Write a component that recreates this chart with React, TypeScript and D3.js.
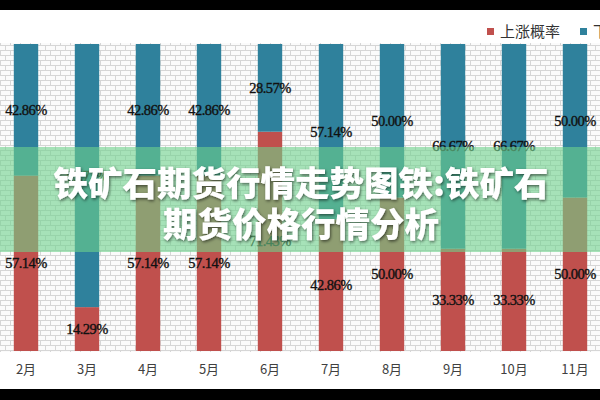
import React from "react";
import * as d3 from "d3";

const months = ["2月", "3月", "4月", "5月", "6月", "7月", "8月", "9月", "10月", "11月"];
const upProb = [57.14, 14.29, 57.14, 57.14, 71.43, 42.86, 50.0, 33.33, 33.33, 50.0];
const downProb = [42.86, 85.71, 42.86, 42.86, 28.57, 57.14, 50.0, 66.67, 66.67, 50.0];
const seriesNames = ["上涨概率", "下跌概率"];
const titleLines = ["铁矿石期货行情走势图铁:铁矿石", "期货价格行情分析"];

const W = 600;
const H = 400;
const RED = "#c0504d";
const BLUE = "#2f819c";

export default function App() {
  const x = d3
    .scaleBand<string>()
    .domain(months)
    .range([-4.5, 605.5])
    .paddingInner(0.6)
    .paddingOuter(0.3);
  const y = d3.scaleLinear().domain([0, 100]).range([351, 44]);

  const rows = months.map((m, i) => ({ m, up: upProb[i], down: downProb[i] }));
  const stack = d3.stack<any>().keys(["up", "down"])(rows);
  const colors = [RED, BLUE];
  const fmt = (v: number) => v.toFixed(2) + "%";

  return (
    <svg
      width={W}
      height={H}
      style={{ position: "fixed", left: 0, top: 0, display: "block", background: "#fff" }}
    >
      <defs>
        <pattern id="brick" width="20" height="10" patternUnits="userSpaceOnUse">
          <rect width="20" height="10" fill="#fbfbfb" />
          <path
            d="M0 0.5H20M0 5.5H20M0.5 0V5M10.5 0V5M5.5 5V10M15.5 5V10"
            stroke="#d6d6d6"
            strokeWidth="1"
            fill="none"
          />
        </pattern>
        <filter id="shadow" x="-10%" y="-30%" width="120%" height="160%">
          <feDropShadow dx="1" dy="1.5" stdDeviation="1.5" floodColor="#000" floodOpacity="0.55" />
        </filter>
      </defs>

      <rect x={0} y={43} width={W} height={309} fill="url(#brick)" />

      {stack.map((s, si) => (
        <g key={si}>
          {s.map((d: any, i: number) => (
            <rect
              key={i}
              x={x(months[i])}
              width={x.bandwidth()}
              y={y(d[1])}
              height={y(d[0]) - y(d[1])}
              fill={colors[si]}
            />
          ))}
        </g>
      ))}

      {stack.map((s, si) => (
        <g key={"l" + si}>
          {s.map((d: any, i: number) => (
            <text
              key={i}
              x={(x(months[i]) as number) + x.bandwidth() / 2}
              y={(y(d[0]) + y(d[1])) / 2}
              textAnchor="middle"
              dominantBaseline="central"
              fontFamily="'Liberation Serif', serif"
              fontSize={14.5}
              letterSpacing={-0.5}
              fill="#111"
              stroke="#111"
              strokeWidth={0.35}
            >
              {fmt(d[1] - d[0])}
            </text>
          ))}
        </g>
      ))}

      {months.map((m) => (
        <text
          key={m}
          x={(x(m) as number) + x.bandwidth() / 2}
          y={374}
          textAnchor="middle"
          fontFamily="'Noto Sans CJK SC', sans-serif"
          fontSize={13}
          fill="#404040"
        >
          {m}
        </text>
      ))}

      <g fontFamily="'Noto Sans CJK SC', sans-serif" fontSize={15} fill="#333">
        <rect x={487} y={28} width={7} height={7} fill={RED} />
        <text x={500} y={37}>{seriesNames[0]}</text>
        <rect x={580} y={28} width={7} height={7} fill={BLUE} />
        <text x={593} y={37}>{seriesNames[1]}</text>
      </g>

      <rect x={0} y={147} width={W} height={105} fill="rgb(110,210,140)" fillOpacity={0.6} />

      <g
        fontFamily="'Noto Sans CJK SC', sans-serif"
        fontWeight={900}
        fontSize={34.5}
        fill="#fff"
        textAnchor="middle"
        filter="url(#shadow)"
      >
        <text x={301} y={196}>{titleLines[0]}</text>
        <text x={301} y={237}>{titleLines[1]}</text>
      </g>

      <rect x={0} y={0} width={W} height={10} fill="#000" />
      <rect x={0} y={389} width={W} height={11} fill="#000" />
    </svg>
  );
}
